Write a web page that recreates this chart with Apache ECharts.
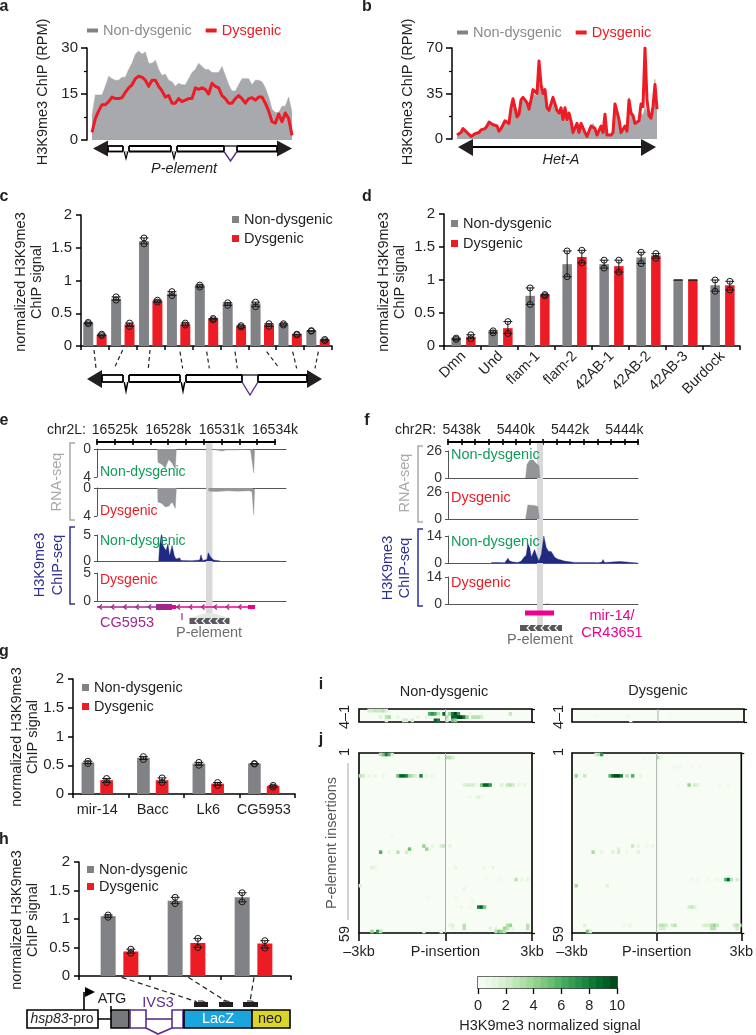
<!DOCTYPE html>
<html><head><meta charset="utf-8">
<style>html,body{margin:0;padding:0;background:#fff}#c{width:756px;height:1035px}</style>
<script src="https://cdn.jsdelivr.net/npm/echarts@6/dist/echarts.min.js"></script>
</head><body><div id="c"></div>
<script>
// ---------- data ----------
const seriesNames = ['Non-dysgenic', 'Dysgenic'];
const aNonDys = [8,14.7,14.7,14.7,17.5,20.8,20,19.5,19.5,20.5,20.5,23,25,28,29,28,28.7,25,25,26,23,21,21.5,19.5,19,17.5,18.5,18,18,20,22,23,25,24,23,23,22,22,22,24,21,18,16,16,18,20,20,20,18,19.5,19.5,19,17,14,10,9,9,11,11,14,9];
const aDys = [2.5,7,9.5,11.5,11.5,12.5,14,13.5,13.5,13.8,15.5,17,18,20,20.8,20.5,19.5,17.5,19.5,19.5,17.5,16,14,14.5,12,12,13.5,12.5,13,13.5,13.5,17,16.5,17,16.5,15,18.5,17.5,17,14.5,13.5,12,12,13.5,14.5,13.5,12,13.5,13.8,13,14,14,12,9.5,6,5.5,8.5,6,8.8,7,1.5];
const bDys = [3,4,5,8,7,5,4,2,2,4,5,5,7,8,8,10,13,13,11,11,10,6,8,11,14,13,12,24,31,30,17,19,30,32,32,28,23,30,38,37,35,60,42,35,38,24,22,22,32,32,22,20,24,15,24,15,20,14,5,5,12,5,12,11,5,2,2,10,11,8,3,3,10,5,19,3,3,3,5,27,21,15,5,5,10,6,30,20,18,12,12,14,27,25,70,30,18,16,25,42,23];
const bNonDys = [2,3,4,7,6,4,3,2,2,3,4,5,6,7,8,9,12,13,10,10,9,6,7,10,13,12,12,22,30,29,16,18,28,30,30,27,23,28,35,35,33,42,40,34,36,24,21,22,30,30,22,20,23,15,22,15,19,13,5,6,13,6,13,11,5,2,2,10,12,9,3,3,9,5,17,3,3,3,5,28,20,14,5,5,9,6,32,21,19,12,12,13,20,18,25,20,17,16,24,46,22];

const cCats = ['1','2','3','4','5','6','7','8','9'];
const cNonDys = [.35,.72,1.6,.8,.92,.65,.65,.33,.23];
const cDys = [.17,.33,.69,.33,.42,.30,.33,.18,.09];
const cNonDysPts = [[.34,.36],[.70,.75],[1.56,1.65],[.77,.83],[.90,.93],[.62,.66],[.60,.67],[.32,.34],[.225,.235]];
const cDysPts = [[.16,.18],[.30,.35],[.67,.70],[.32,.35],[.40,.42],[.29,.31],[.30,.34],[.17,.18],[.08,.10]];

const dCats = ['Dmn','Und','flam-1','flam-2','42AB-1','42AB-2','42AB-3','Burdock'];
const dNonDys = [.12,.22,.76,1.24,1.24,1.34,1.0,.92];
const dDys = [.14,.27,.77,1.35,1.21,1.37,1.0,.92];
const dNonDysPts = [[.10,.12],[.20,.23],[.63,.88],[1.05,1.44],[1.18,1.30],[1.25,1.42],[1,1],[.83,1.0]];
const dDysPts = [[.11,.17],[.19,.37],[.76,.78],[1.26,1.45],[1.12,1.30],[1.33,1.40],[1,1],[.85,.98]];

const gCats = ['mir-14','Bacc','Lk6','CG5953'];
const gNonDys = [.55,.63,.53,.53];
const gDys = [.24,.24,.18,.14];
const gNonDysPts = [[.53,.57],[.60,.65],[.50,.55],[.52,.53]];
const gDysPts = [[.20,.27],[.20,.28],[.15,.20],[.12,.15]];

const hCats = ['1','2','3'];
const hNonDys = [1.05,1.32,1.38];
const hDys = [.43,.58,.57];
const hNonDysPts = [[1.03,1.07],[1.27,1.38],[1.30,1.46]];
const hDysPts = [[.40,.47],[.50,.66],[.49,.62]];

const eRulerLabels = [16525,16528,16531,16534];
const fRulerLabels = [5438,5440,5442,5444];

const eRnaNdPos = [16527.40,16527.42,16527.64,16527.83,16528.02,16528.21,16528.39,16528.44,16528.45,16530.36,16530.37,16530.73,16531.01,16531.29,16531.66,16531.67,16532.6,16532.69,16532.79,16532.84,16532.88];
const eRnaNdVal = [0,1.9,2.2,2.7,1.5,2.0,2.9,3.0,0,0,.15,.15,.3,.12,.15,0,0,.2,3.4,.2,0];
const eRnaDPos = [16527.40,16527.42,16527.64,16527.83,16528.02,16528.21,16528.39,16528.44,16528.45,16530.26,16530.27,16530.73,16531.29,16531.9,16532.5,16532.69,16532.79,16532.84,16532.88];
const eRnaDVal = [0,2.0,2.2,2.7,2.6,2.0,2.9,3.0,0,0,.45,.5,.4,.45,.4,.5,3.8,.2,0];
const eChipPos = [16527.46,16527.51,16527.63,16527.7,16527.78,16527.87,16527.98,16528.07,16528.21,16528.34,16528.43,16528.49,16528.64,16528.71,16529.33,16529.76,16529.83,16529.93,16530.17,16530.24,16530.36,16530.45,16530.54,16530.73,16530.92];
const eChipVal = [0,3,5.5,3,2.5,2,3.3,1,3,1,.4,.1,.6,.1,.05,.2,1.2,.1,.3,1.6,.8,.6,.2,.1,0];
const eChipDPos = [16526.7,16526.75,16526.8];
const eChipDVal = [0,.15,0];

const fRnaNdPos = [5440.36,5440.41,5440.51,5440.63,5440.75,5440.85,5440.89];
const fRnaNdVal = [0,13,17,17.5,14,12,0];
const fRnaDPos = [5440.36,5440.44,5440.51,5440.69,5440.81,5440.87];
const fRnaDVal = [0,13.5,15,13,12,0];
const fChipPos = [5439.10,5439.34,5439.59,5439.65,5439.71,5439.77,5439.89,5440.08,5440.20,5440.30,5440.38,5440.44,5440.51,5440.57,5440.63,5440.69,5440.79,5440.85,5440.94,5441.03,5441.12,5441.21,5441.30,5441.43,5441.55,5441.67,5441.79,5441.86,5442.16,5442.41,5442.90,5442.96,5443.02,5443.17,5443.21,5443.27,5443.82,5443.94,5444.00,5444.49];
const fChipVal = [.2,.3,.1,.6,2.5,1,.5,.3,1,3,4,10,8,3,5,7,3,1,4.5,14,8,6,6,3,2,1.5,1,.2,.3,.3,.2,1,.1,.5,1.8,.2,.8,.7,.1,0];
const fChipDPos = [5441.1,5441.15,5441.2];
const fChipDVal = [0,.2,0];

// heatmap cells: [column (0-59), row, signal]
const iNonDysCells = [[3,0,2],[4,0,2],[5,0,2.5],[6,0,2.5],[7,0,2.5],[8,0,3],[9,0,1.5],[24,1,6],[25,1,7],[26,1,6],[27,1,3],[29,1,9],[31,1,4],[32,1,8],[33,1,10],[34,1,7],[38,1,.7],[42,1,.5],[52,1,2.5],[7,2,1.5],[9,2,3],[10,2,3.5],[13,2,.8],[20,2,1],[23,2,1],[27,2,1],[30,2,3],[32,2,9],[33,2,9],[34,2,10],[35,2,10],[36,2,8],[37,2,4],[39,2,3],[40,2,3],[41,2,3],[42,2,2],[9,3,1.5],[15,3,2],[16,3,2],[18,3,2],[26,3,9],[27,3,8],[30,3,2],[32,3,5],[33,3,4]];
const iDysCells = [[8,2,.4],[19,2,.6],[20,3,.3],[34,2,.3]];
const jNonDysCells = [[7,0,3],[8,0,5],[9,0,8],[10,0,6],[11,0,2],[27,1,1],[30,1,3],[31,1,3],[32,1,2],[0,7,3],[1,7,2],[3,7,1],[5,7,.7],[8,7,.7],[13,7,5],[14,7,9],[15,7,9],[16,7,8],[17,7,4],[18,7,3],[19,7,2],[21,7,8],[23,7,1],[25,7,.7],[36,10,1.5],[37,10,2],[38,10,2],[39,10,2],[40,10,1],[42,10,5],[43,10,9],[44,10,9],[45,10,7],[49,10,1.5],[51,10,2.5],[52,10,3],[53,10,2],[55,10,1],[57,10,1],[38,14,.5],[40,14,.5],[41,14,1.5],[42,14,.5],[11,27,.5],[22,30,4],[25,30,1],[28,30,2],[29,30,2.5],[31,30,1],[17,31,5],[23,31,4],[7,32,6],[10,32,1],[13,32,3],[16,32,2],[4,37,1.5],[5,37,1],[33,37,1],[43,37,.7],[46,37,1],[44,41,.5],[48,41,.5],[54,41,3],[56,41,1],[58,41,1],[0,43,1.5],[36,44,1],[23,47,.3],[33,47,.5],[39,48,.7],[35,50,.7],[38,50,.5],[41,50,8],[42,50,9],[43,50,5],[31,56,1],[32,56,1.5],[36,56,3],[51,56,3],[52,56,4],[58,56,3],[32,57,1],[36,57,3],[45,57,1.5],[47,57,1],[50,57,4],[51,57,3],[53,57,1],[58,57,3],[4,58,4],[6,58,7],[7,58,3],[22,58,.7],[28,58,1],[47,58,3],[48,58,5],[49,58,4],[50,58,3]];
const jDysCells = [[8,0,2],[9,0,3],[10,0,7],[25,1,.5],[27,1,.5],[30,1,3],[31,1,1],[36,4,.5],[37,4,.5],[38,4,.5],[42,4,.4],[45,4,.5],[1,7,4],[4,7,2.5],[13,7,6],[14,7,9],[15,7,10],[16,7,10],[17,7,8],[19,7,3],[21,7,6],[24,7,1],[37,10,.5],[41,10,4],[43,10,2],[44,10,1.5],[52,10,.6],[55,10,.5],[21,30,2.5],[23,30,1],[26,30,.7],[28,30,.7],[16,31,1.5],[7,32,3.5],[10,32,1],[14,32,1.5],[16,32,2],[19,32,.7],[23,32,1.5],[42,41,.5],[44,41,.5],[48,41,.5],[51,41,.7],[54,41,6],[55,41,9],[56,41,3],[58,41,2],[1,43,3.5],[12,43,1.5],[41,50,2],[42,50,2.5],[43,50,1.5],[4,56,1.5],[18,56,.7],[20,56,1],[30,56,1],[31,56,3],[32,56,3],[33,56,2],[35,56,2],[36,56,3],[46,56,1.5],[47,56,2],[48,56,2],[49,56,3],[50,56,4],[51,56,2.5],[57,56,2],[58,56,3],[59,56,2],[31,57,2],[32,57,2],[49,57,3],[50,57,3],[58,57,2],[5,58,5],[6,58,2]];
const colorbarSteps = [.25,.75,1.25,1.75,2.25,2.75,3.25,3.75,4.25,4.75,5.25,5.75,6.25,6.75,7.25,7.75,8.25,8.75,9.25,9.75];
const greens = ['#f7fcf5','#e5f5e0','#c7e9c0','#a1d99b','#74c476','#41ab5d','#238b45','#006d2c','#00441b'];

// ---------- palette ----------
const FONT = 'Liberation Sans', INK = '#231f20', GRAY = '#808285', RED = '#ed1c24', AREA = '#a7a9ac',
  NAVY = '#1f2a80', TXTGRN = '#0f9d58', TXTRED = '#ed1c24', PURP = '#5b2d8e', MAG = '#ec008c', GENE = '#a0278f', DARK = '#58595b';

// ---------- builders ----------
const grids = [], xAxes = [], yAxes = [], series = [], legends = [], gfx = [];
function addGrid(g) { grids.push(Object.assign({ containLabel: false }, g)); return grids.length - 1; }
const axisBlack = { lineStyle: { color: '#000', width: 1.5 } };
const L = (x1, y1, x2, y2, stroke = '#000', lineWidth = 1.5, lineDash, z = 100) => gfx.push({ type: 'line', z, shape: { x1, y1, x2, y2 }, style: { stroke, lineWidth, lineDash } });
const R = (x, y, width, height, fill, stroke, lineWidth = 1.5, z = 100) => gfx.push({ type: 'rect', z, shape: { x, y, width, height }, style: { fill, stroke, lineWidth } });
const P = (points, fill, z = 100) => gfx.push({ type: 'polygon', z, shape: { points }, style: { fill } });
const PL = (points, stroke, lineWidth = 1.5, z = 100) => gfx.push({ type: 'polyline', z, shape: { points }, style: { stroke, lineWidth, fill: 'none' } });
const T = (x, y, text, o = {}) => gfx.push({ type: 'text', z: 110, x, y, rotation: o.rot ? Math.PI / 2 : 0, style: { text, fill: o.color || INK, font: `${o.style || ''} ${o.weight || ''} ${o.size || 14.5}px "${FONT}"`, textAlign: o.align || 'center', textVerticalAlign: 'middle', verticalAlign: 'middle' } });

function legend(left, top, orient, swW, swH, gap, colored) {
  legends.push({ left, top, orient, icon: 'rect', itemWidth: swW, itemHeight: swH, itemGap: gap, selectedMode: false, padding: 0,
    textStyle: { fontFamily: FONT, fontSize: 14.5, color: INK },
    data: seriesNames.map((name, i) => ({ name, icon: 'rect', itemStyle: { color: i ? RED : GRAY },
      textStyle: { fontFamily: FONT, fontSize: 14.5, color: colored ? (i ? RED : '#8a8c8e') : INK } })) });
}

function profile(left, width, top, height, yOffset, ymax, nd, dy) {
  const g = addGrid({ left, width, top, height });
  xAxes.push({ gridIndex: g, type: 'category', boundaryGap: false, show: false, data: nd.map((_, i) => i) });
  yAxes.push({ gridIndex: g, type: 'value', min: 0, max: ymax, interval: ymax / 2, offset: yOffset,
    axisLine: Object.assign({ show: true }, axisBlack), axisTick: { show: true, length: 6, lineStyle: { color: '#000', width: 1.5 } },
    minorTick: { show: true, splitNumber: 2, length: 3, lineStyle: { color: '#000', width: 1.2 } },
    axisLabel: { fontFamily: FONT, fontSize: 15, color: INK, margin: 9 }, splitLine: { show: false } });
  const ax = xAxes.length - 1;
  series.push({ name: seriesNames[0], type: 'line', xAxisIndex: ax, yAxisIndex: ax, data: nd, showSymbol: false, silent: true, lineStyle: { width: 0.5, color: AREA }, itemStyle: { color: AREA }, areaStyle: { color: AREA, opacity: 1 }, z: 2 });
  series.push({ name: seriesNames[1], type: 'line', xAxisIndex: ax, yAxisIndex: ax, data: dy, showSymbol: false, silent: true, lineStyle: { width: 3, color: RED, join: 'round' }, itemStyle: { color: RED }, z: 3 });
}

function barPanel(o) {
  const gap = (o.centerGap - o.barW) / o.barW;
  const separate = o.barsLeft !== undefined;
  const width = o.right - o.left;
  const labelCfg = o.showLabels ? { show: true, interval: 0, rotate: o.rotate || 0, fontFamily: FONT, fontSize: 14.5, color: INK, margin: o.labelMargin || 9 } : { show: false };
  const catAxis = { type: 'category', data: o.cats, axisLine: Object.assign({ show: true }, axisBlack),
    axisTick: { show: true, alignWithLabel: false, length: 4, interval: 0, lineStyle: { color: '#000', width: 1.5 } },
    axisLabel: separate ? { show: false } : labelCfg };
  const valAxis = { type: 'value', min: 0, max: 2, interval: 0.5, axisLine: Object.assign({ show: true }, axisBlack),
    axisTick: { show: true, length: 5, lineStyle: { color: '#000', width: 1.5 } },
    axisLabel: { fontFamily: FONT, fontSize: 15, color: INK, margin: 9, formatter: v => String(v) }, splitLine: { show: false } };
  let g = addGrid({ left: o.left, width, top: o.top, height: o.bottom - o.top });
  xAxes.push(Object.assign({ gridIndex: g }, catAxis));
  yAxes.push(Object.assign({ gridIndex: g }, valAxis));
  if (separate) {
    g = addGrid({ left: o.barsLeft, width: o.barsWidth, top: o.top, height: o.bottom - o.top });
    xAxes.push({ gridIndex: g, type: 'category', data: o.cats, axisLine: { show: false }, axisTick: { show: false }, axisLabel: labelCfg });
    yAxes.push({ gridIndex: g, type: 'value', min: 0, max: 2, show: false, splitLine: { show: false } });
  }
  const ax = xAxes.length - 1;
  [o.nd, o.dy].forEach((vals, s) => {
    series.push({ name: seriesNames[s], type: 'bar', xAxisIndex: ax, yAxisIndex: ax, data: vals, barWidth: o.barW, barGap: (gap * 100) + '%', silent: true, itemStyle: { color: s ? RED : GRAY }, z: 2 });
  });
  [o.ndPts, o.dyPts].forEach((pts, s) => {
    const off = (s ? 1 : -1) * o.centerGap / 2;
    series.push({ type: 'custom', xAxisIndex: ax, yAxisIndex: ax, silent: true, z: 5, clip: false,
      data: pts.map((p, i) => [i, p[0], p[1]]), encode: { x: 0, y: [1, 2] },
      renderItem(params, api) {
        const i = api.value(0), lo = api.value(1), hi = api.value(2);
        const a = api.coord([i, lo]), b = api.coord([i, hi]);
        const x = a[0] + off, sty = { stroke: '#1a1a1a', lineWidth: 1, fill: 'none' };
        const kids = [
          { type: 'line', shape: { x1: x, y1: a[1], x2: x, y2: b[1] }, style: sty },
          { type: 'line', shape: { x1: x - 4.5, y1: a[1], x2: x + 4.5, y2: a[1] }, style: sty },
          { type: 'line', shape: { x1: x - 4.5, y1: b[1], x2: x + 4.5, y2: b[1] }, style: sty }];
        if (lo !== hi) [a, b].forEach(q => kids.push({ type: 'circle', shape: { cx: x, cy: q[1], r: 3 }, style: sty }));
        return { type: 'group', children: kids };
      } });
  });
}

function ruler(left, width, y, min, max, interval, labels) {
  const g = addGrid({ left, width, top: y, height: 1 });
  const base = { gridIndex: g, type: 'value', min, max, interval, splitLine: { show: false },
    axisLine: { show: true, lineStyle: { color: '#000', width: 1.8 } },
    axisTick: { show: true, length: 3, lineStyle: { color: '#000', width: 1.6 } } };
  xAxes.push(Object.assign({}, base, { position: 'top', axisLabel: { show: true, fontFamily: FONT, fontSize: 14, color: INK, margin: 4, showMinLabel: true, showMaxLabel: true, hideOverlap: false,
    formatter: v => labels.includes(v) ? v + 'k' : '' } }));
  yAxes.push({ gridIndex: g, type: 'value', show: false, splitLine: { show: false } });
  series.push({ type: 'line', data: [], xAxisIndex: xAxes.length - 1, yAxisIndex: yAxes.length - 1 });
  xAxes.push(Object.assign({}, base, { position: 'bottom', axisLabel: { show: false } }));
  yAxes.push({ gridIndex: g, type: 'value', show: false, splitLine: { show: false } });
}

function track(left, width, top, height, xmin, xmax, ymax, hanging, pos, val, color) {
  const g = addGrid({ left, width, top, height });
  xAxes.push({ gridIndex: g, type: 'value', min: xmin, max: xmax, position: hanging ? 'top' : 'bottom',
    axisLine: { show: true, onZero: false, lineStyle: { color: '#555', width: 1 } }, axisTick: { show: false }, axisLabel: { show: false }, splitLine: { show: false } });
  yAxes.push({ gridIndex: g, type: 'value', min: 0, max: ymax, interval: ymax, inverse: hanging,
    axisLine: { show: true, lineStyle: { color: '#555', width: 1 } }, axisTick: { show: true, length: 3, lineStyle: { color: '#555' } },
    axisLabel: { fontFamily: FONT, fontSize: 14, color: '#333', margin: 6 }, splitLine: { show: false } });
  series.push({ type: 'line', xAxisIndex: xAxes.length - 1, yAxisIndex: yAxes.length - 1, showSymbol: false, silent: true,
    data: pos.map((p, i) => [p, val[i]]), lineStyle: { width: 0.4, color }, itemStyle: { color }, areaStyle: { color, opacity: 1 }, z: 3 });
}

const heatIdx = [];
function heat(left, width, top, height, nRows, cells, showLabels) {
  const g = addGrid({ left, width, top, height, show: true, backgroundColor: '#f7fcf5', borderColor: '#000', borderWidth: 1.6 });
  xAxes.push({ gridIndex: g, type: 'category', show: false, data: Array.from({ length: 60 }, (_, i) => i) });
  yAxes.push({ gridIndex: g, type: 'category', show: false, inverse: true, data: Array.from({ length: nRows }, (_, i) => i) });
  heatIdx.push(series.length);
  series.push({ type: 'heatmap', xAxisIndex: xAxes.length - 1, yAxisIndex: yAxes.length - 1, data: cells, silent: true, z: 2, progressive: 0 });
  xAxes.push({ gridIndex: g, type: 'value', min: -3, max: 3, interval: 3, position: 'bottom', splitLine: { show: false },
    axisLine: { show: false }, axisTick: { show: showLabels, length: 8, lineStyle: { color: '#000', width: 1.5 } },
    axisLabel: { show: showLabels, fontFamily: FONT, fontSize: 14.5, color: INK, margin: 11, formatter: v => v === -3 ? '\u20133kb' : v === 3 ? '3kb' : 'P-insertion' } });
  yAxes.push({ gridIndex: g, type: 'value', min: 0, max: 1, interval: 1, splitLine: { show: false }, axisLine: { show: false },
    axisTick: { show: true, length: 3, lineStyle: { color: '#000', width: 1.2 } }, axisLabel: { show: false } });
  series.push({ type: 'line', xAxisIndex: xAxes.length - 1, yAxisIndex: yAxes.length - 1, data: [[0, 0], [0, 1]], showSymbol: false, silent: true, lineStyle: { color: '#a9b0a9', width: 1 }, z: 4 });
}

function colorbar(left, width, top, height) {
  const g = addGrid({ left, width, top, height, show: true, backgroundColor: '#fff', borderColor: '#000', borderWidth: 1.4 });
  xAxes.push({ gridIndex: g, type: 'category', show: false, data: colorbarSteps.map(String) });
  yAxes.push({ gridIndex: g, type: 'category', show: false, data: ['s'] });
  heatIdx.push(series.length);
  series.push({ type: 'heatmap', xAxisIndex: xAxes.length - 1, yAxisIndex: yAxes.length - 1, data: colorbarSteps.map((v, i) => [i, 0, v]), silent: true, z: 2, progressive: 0 });
  xAxes.push({ gridIndex: g, type: 'value', min: 0, max: 10, interval: 2, position: 'bottom', splitLine: { show: false }, axisLine: { show: false },
    axisTick: { show: true, length: 6, lineStyle: { color: '#000', width: 1.3 } }, axisLabel: { fontFamily: FONT, fontSize: 14.5, color: INK, margin: 10 } });
  yAxes.push({ gridIndex: g, type: 'value', show: false, splitLine: { show: false } });
  series.push({ type: 'line', xAxisIndex: xAxes.length - 1, yAxisIndex: yAxes.length - 1, data: [] });
}

function pelement(xl, xr, aw, yc, ah, bt, bb, tip, notches, purple) {
  P([[xl, yc], [xl + aw, yc - ah], [xl + aw, yc + ah]], INK);
  P([[xr, yc], [xr - aw, yc - ah], [xr - aw, yc + ah]], INK);
  const stops = [xl + aw];
  notches.forEach(n => stops.push(n - 3, n + 3));
  stops.push(purple[0], purple[1], xr - aw);
  const ordered = stops.sort((a, b) => a - b);
  for (let i = 0; i < ordered.length; i += 2) {
    L(ordered[i], bt, ordered[i + 1], bt, '#000', 1.8); L(ordered[i], bb, ordered[i + 1], bb, '#000', 1.8);
    L(ordered[i + 1], bt, ordered[i + 1], bb, '#000', 1.8); L(ordered[i], bt, ordered[i], bb, '#000', 1.8);
  }
  notches.forEach(n => { P([[n - 2.5, bb], [n, tip], [n + 2.5, bb]], '#000'); P([[n - 1, bb], [n, bb + 5], [n + 1, bb]], '#fff'); });
  PL([[purple[0], bb], [(purple[0] + purple[1]) / 2, tip], [purple[1], bb]], PURP, 1.4);
  L(purple[0], bt, purple[1], bt, '#000', 1.2);
}

// ---------- a, b ----------
profile(92, 200, 48, 92, 5, 30, aNonDys, aDys);
legend(87, 23, 'horizontal', 11, 4, 14, true);
profile(457, 200, 48, 91, 5, 70, bNonDys, bDys);
legend(457, 25, 'horizontal', 11, 4, 14, true);
pelement(93, 292, 15, 148.5, 8, 146, 151.5, 161, [126, 174], [224, 237]);
T(184, 169, 'P-element', { style: 'italic' });
P([[458, 147], [473, 139], [473, 156]], INK); P([[656, 147], [641, 139], [641, 156]], INK); L(473, 147, 641, 147, '#000', 2);
T(561, 160, 'Het-A', { style: 'italic' });
T(43, 92, 'H3K9me3 ChIP (RPM)', { rot: 1 });
T(408, 92, 'H3K9me3 ChIP (RPM)', { rot: 1 });

// ---------- c, d ----------
barPanel({ left: 81, right: 332, top: 215, bottom: 346, cats: cCats, nd: cNonDys, dy: cDys, ndPts: cNonDysPts, dyPts: cDysPts, barW: 10, centerGap: 13.4 });
legend(232, 212, 'vertical', 7, 7, 4, false);
T(21, 282, 'normalized H3K9me3', { rot: 1 }); T(37, 282, 'ChIP signal', { rot: 1 });
barPanel({ left: 444, right: 740, top: 214, bottom: 346, cats: dCats, nd: dNonDys, dy: dDys, ndPts: dNonDysPts, dyPts: dDysPts, barW: 9.5, centerGap: 14.7, showLabels: true, rotate: 45, labelMargin: 8, barsLeft: 445, barsWidth: 296 });
legend(451, 216, 'vertical', 7, 7, 5, false);
T(384, 282, 'normalized H3K9me3', { rot: 1 }); T(400, 282, 'ChIP signal', { rot: 1 });
[[282, 480, 288, 535], [368, 480, 345, 530], [450, 480, 445, 535], [540, 485, 548, 535], [620, 485, 628, 535], [705, 485, 712, 535], [800, 485, 838, 535], [878, 485, 890, 535], [955, 485, 945, 535]]
  .forEach(s => L(s[0] / 3, 190 + s[1] / 3, s[2] / 3, 190 + s[3] / 3, '#222', 1.2, [4, 3]));
pelement(87, 322, 15, 379, 9, 375, 382, 395, [126, 183], [242, 258]);

// ---------- e ----------
const E0 = 16524, E1 = 16534.6;
R(206, 443, 6.5, 170, '#d9d9da', 'none', 0, 1);
P([[206, 613], [212.5, 613], [229, 618], [189, 618]], '#e6e6e7', 1);
ruler(97, 178, 441, 16524, 16534, 1, eRulerLabels);
T(47, 430, 'chr2L:', { align: 'left', size: 14 });
track(97, 189, 449, 28, E0, E1, 4, true, eRnaNdPos, eRnaNdVal, '#939598');
track(97, 189, 488, 28, E0, E1, 4, true, eRnaDPos, eRnaDVal, '#939598');
track(97, 189, 535, 26, E0, E1, 5, false, eChipPos, eChipVal, NAVY);
track(97, 189, 573, 28, E0, E1, 5, false, eChipDPos, eChipDVal, NAVY);
T(100, 472, 'Non-dysgenic', { align: 'left', color: TXTGRN, size: 14 });
T(100, 511, 'Dysgenic', { align: 'left', color: TXTRED, size: 14 });
T(100, 541, 'Non-dysgenic', { align: 'left', color: TXTGRN, size: 14 });
T(100, 580, 'Dysgenic', { align: 'left', color: TXTRED, size: 14 });
PL([[75, 443], [70, 443], [70, 520], [75, 520]], '#a7a9ac', 1.5);
PL([[75, 527], [70, 527], [70, 604], [75, 604]], '#2e3192', 1.5);
T(57, 482, 'RNA-seq', { rot: 1, color: '#a7a9ac' });
T(40, 565, 'H3K9me3', { rot: 1, color: '#2e3192' }); T(58, 565, 'ChIP-seq', { rot: 1, color: '#2e3192' });
L(97, 607, 156, 607, GENE, 1.3); L(176, 607, 250, 607, MAG, 1.3);
for (let x = 99; x < 155; x += 12.3) PL([[x + 3, 604.5], [x, 607], [x + 3, 609.5]], GENE, 1.3);
for (let x = 177; x < 248; x += 12.3) PL([[x + 3, 604.5], [x, 607], [x + 3, 609.5]], GENE, 1.3);
R(156, 604, 16, 6, GENE, 'none', 0); R(172, 605, 4, 4, MAG, 'none', 0); R(248, 605, 7, 4, MAG, 'none', 0);
L(182, 613, 182, 620, GENE, 1.2);
R(189.5, 618, 40, 6, DARK, 'none', 0);
for (let x = 195; x < 226; x += 7) PL([[x + 3, 618], [x, 621], [x + 3, 624]], '#fff', 1.1);
T(127, 623, 'CG5953', { color: GENE });
T(209, 633, 'P-element', { color: '#6d6e71' });

// ---------- f ----------
const F0 = 5437.5, F1 = 5444.5;
R(537, 443, 6, 182, '#d9d9da', 'none', 0, 1);
P([[537, 625], [543, 625], [561, 628], [520, 628]], '#e6e6e7', 1);
ruler(448, 190, 441, 5437.5, 5444.5, 0.5, fRulerLabels);
T(395, 430, 'chr2R:', { align: 'left', size: 14 });
track(448, 190, 451, 27, F0, F1, 26, false, fRnaNdPos, fRnaNdVal, '#939598');
track(448, 190, 492, 27, F0, F1, 26, false, fRnaDPos, fRnaDVal, '#939598');
track(448, 190, 536, 27, F0, F1, 14, false, fChipPos, fChipVal, NAVY);
track(448, 190, 577, 27, F0, F1, 14, false, fChipDPos, fChipDVal, NAVY);
T(451, 455, 'Non-dysgenic', { align: 'left', color: TXTGRN });
T(451, 498, 'Dysgenic', { align: 'left', color: TXTRED });
T(451, 542, 'Non-dysgenic', { align: 'left', color: TXTGRN });
T(451, 583, 'Dysgenic', { align: 'left', color: TXTRED });
PL([[423, 446], [418, 446], [418, 522], [423, 522]], '#a7a9ac', 1.5);
PL([[423, 529], [418, 529], [418, 606], [423, 606]], '#2e3192', 1.5);
T(405, 483, 'RNA-seq', { rot: 1, color: '#a7a9ac' });
T(388, 568, 'H3K9me3', { rot: 1, color: '#2e3192' }); T(405, 568, 'ChIP-seq', { rot: 1, color: '#2e3192' });
R(525, 610.5, 29, 5, MAG, 'none', 0);
R(520, 625, 42, 6, DARK, 'none', 0);
for (let x = 527; x < 558; x += 7) PL([[x + 3, 625], [x, 628], [x + 3, 631]], '#fff', 1.1);
T(540, 640, 'P-element', { color: '#6d6e71' });
T(612, 616, 'mir-14/', { color: MAG }); T(612, 633, 'CR43651', { color: MAG });

// ---------- g, h ----------
barPanel({ left: 73, right: 295, top: 679, bottom: 794, cats: gCats, nd: gNonDys, dy: gDys, ndPts: gNonDysPts, dyPts: gDysPts, barW: 12.7, centerGap: 18.7, showLabels: true, labelMargin: 8, barsLeft: 69.5, barsWidth: 222 });
legend(82, 680, 'vertical', 7, 7, 4, false);
T(17, 737, 'normalized H3K9me3', { rot: 1 }); T(33, 737, 'ChIP signal', { rot: 1 });
barPanel({ left: 79, right: 291, top: 862, bottom: 976, cats: hCats, nd: hNonDys, dy: hDys, ndPts: hNonDysPts, dyPts: hDysPts, barW: 15, centerGap: 22.7, barsLeft: 86, barsWidth: 201 });
legend(87, 862, 'vertical', 7, 7, 2, false);
T(17, 920, 'normalized H3K9me3', { rot: 1 }); T(33, 920, 'ChIP signal', { rot: 1 });
[[365, 1012, 590, 1085], [565, 1012, 680, 1085], [762, 1012, 750, 1085]].forEach(s => L(s[0] / 3, 640 + s[1] / 3, s[2] / 3, 640 + s[3] / 3, '#222', 1.2, [5, 3.5]));
[[194, 208], [219, 233], [243, 258]].forEach(s => { R(s[0], 1002, s[1] - s[0], 5, '#231f20', 'none', 0); PL([[s[0] + 4, 1001], [s[0] + 9, 1001], [s[0] + 12, 1003]], '#231f20', 1); });
R(27, 1010, 71, 18, '#fff', '#000', 1.6);
gfx.push({ type: 'text', z: 110, x: 62, y: 1019, style: { rich: { i: { font: `italic 14px "${FONT}"`, fill: INK }, n: { font: `14px "${FONT}"`, fill: INK } }, text: '{i|hsp83}{n|-pro}', textAlign: 'center', verticalAlign: 'middle', fill: INK, font: `14px "${FONT}"` } });
L(98, 1019, 111, 1019, '#000', 1.5);
R(111, 1010, 18, 18, '#77787b', '#000', 1.6);
R(130, 1010, 16, 18, '#fff', PURP, 1.6); R(172, 1010, 11, 18, '#fff', PURP, 1.6);
L(146, 1019, 172, 1019, PURP, 1.6);
PL([[146, 1028], [158, 1034], [172, 1028]], PURP, 1.6);
R(184, 1010, 68, 18, '#1ba5df', '#000', 1.6); R(252, 1010, 38, 18, '#d8d62a', '#000', 1.6);
T(218, 1019, 'LacZ', { color: '#fff' }); T(270, 1019, 'neo');
T(158, 1003, 'IVS3', { color: PURP }); T(112, 999, 'ATG');
L(111, 1006, 111, 1012, '#000', 1.5);
L(84, 1010, 84, 992, '#000', 1.6); P([[85, 987], [95, 992], [85, 997]], '#000');

// ---------- i, j ----------
heat(359, 173, 709, 13, 4, iNonDysCells, false);
heat(572, 172, 709, 13, 4, iDysCells, false);
heat(359, 173, 753, 180, 59, jNonDysCells, true);
heat(572, 172, 753, 180, 59, jDysCells, true);
colorbar(478, 139, 977, 11);
T(444, 692, 'Non-dysgenic'); T(658, 691, 'Dysgenic');
T(345, 717, '4\u20131', { rot: 1 }); T(559, 717, '4\u20131', { rot: 1 });
T(345, 752, '1', { rot: 1 }); T(345, 934, '59', { rot: 1 }); T(559, 752, '1', { rot: 1 }); T(559, 934, '59', { rot: 1 });
L(348, 763, 348, 920, '#a7a9ac', 1);
T(332, 843, 'P-element insertions', { rot: 1, color: '#58595b' });
T(550, 1026, 'H3K9me3 normalized signal');

// ---------- panel letters ----------
[['a', 4, 7], ['b', 367, 7], ['c', 4, 197], ['d', 367, 197], ['e', 4, 421], ['f', 367, 421], ['g', 4, 652], ['h', 4, 840], ['i', 321, 685], ['j', 321, 740]]
  .forEach(p => T(p[1], p[2], p[0], { weight: 'bold', size: 16 }));

// ---------- chart ----------
const chart = echarts.init(document.getElementById('c'), null, { renderer: 'canvas', width: 756, height: 1035 });
chart.setOption({
  animation: false, backgroundColor: '#fff', textStyle: { fontFamily: FONT },
  legend: legends, grid: grids, xAxis: xAxes, yAxis: yAxes, series,
  visualMap: { show: false, min: 0, max: 10, seriesIndex: heatIdx, dimension: 2, inRange: { color: greens } },
  graphic: { elements: gfx }
});
</script></body></html>
